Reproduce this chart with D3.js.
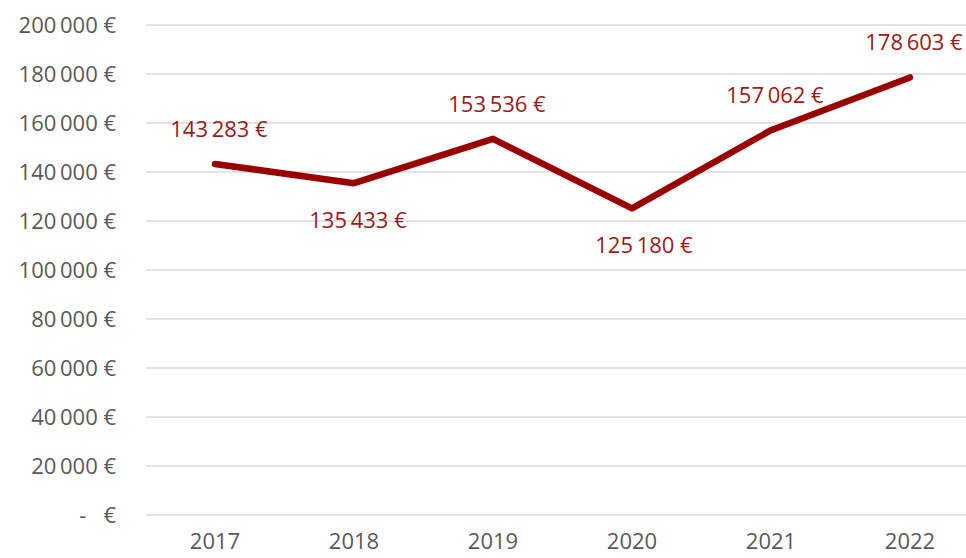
<!DOCTYPE html>
<html>
<head>
<meta charset="utf-8">
<script src="https://cdn.jsdelivr.net/npm/d3@7"></script>
<style>
  body { margin: 0; background: #fff; }
  svg { display: block; font-family: "Open Sans", sans-serif; }
  .tick-label { fill: #595959; font-size: 22px; }
  .data-label { fill: #9c1a1a; font-size: 22px; }
</style>
</head>
<body>
<div id="card"></div>
<script>
// chart data
const years = ["2017", "2018", "2019", "2020", "2021", "2022"];
const revenue = [143283, 135433, 153536, 125180, 157062, 178603];
const yTicks = [0, 20000, 40000, 60000, 80000, 100000, 120000, 140000, 160000, 180000, 200000];

const w = 966;
const h = 558;

// where each value label sits relative to its point
const labelSide = ["top", "bottom", "top", "bottom", "top", "top"];

const svg = d3.select("#card")
  .append("svg")
  .attr("width", w)
  .attr("height", h);

const x = d3.scaleBand()
  .domain(years)
  .range([145.5, 979.5]);

const y = d3.scaleLinear()
  .domain([0, 200000])
  .range([515, 25]);

// euro format with thin thousands separator, dash for zero
function euro(v) {
  if (v === 0) return "-\u00a0\u00a0\u00a0€";
  return d3.format(",")(v).replace(/,/g, "\u2009") + "\u00a0€";
}

// gridlines
svg.append("g")
  .selectAll("line")
  .data(yTicks)
  .enter()
  .append("line")
  .attr("x1", 146)
  .attr("x2", w)
  .attr("y1", d => y(d))
  .attr("y2", d => y(d))
  .attr("stroke", "#d9d9d9")
  .attr("stroke-width", 1.6);

// y axis labels
svg.append("g")
  .selectAll("text")
  .data(yTicks)
  .enter()
  .append("text")
  .classed("tick-label", true)
  .attr("x", 116)
  .attr("y", d => y(d))
  .attr("dy", "0.36em")
  .attr("text-anchor", "end")
  .style("white-space", "pre")
  .text(d => euro(d));

// x axis labels
svg.append("g")
  .selectAll("text")
  .data(years)
  .enter()
  .append("text")
  .classed("tick-label", true)
  .attr("x", d => x(d) + x.bandwidth() / 2)
  .attr("y", 541)
  .attr("dy", "0.36em")
  .attr("text-anchor", "middle")
  .text(d => d);

// line
const points = years.map((yr, i) => ({ year: yr, value: revenue[i], side: labelSide[i] }));

const line = d3.line()
  .x(d => x(d.year) + x.bandwidth() / 2)
  .y(d => y(d.value));

svg.append("path")
  .datum(points)
  .attr("d", line)
  .attr("fill", "none")
  .attr("stroke", "#990000")
  .attr("stroke-width", 6.5)
  .attr("stroke-linejoin", "round")
  .attr("stroke-linecap", "round");

// value labels
svg.append("g")
  .selectAll("text")
  .data(points)
  .enter()
  .append("text")
  .classed("data-label", true)
  .attr("x", (d, i) => x(d.year) + x.bandwidth() / 2 + (i === 3 ? 12 : 4))
  .attr("y", d => y(d.value) + (d.side === "top" ? -35 : 37))
  .attr("dy", "0.36em")
  .attr("text-anchor", "middle")
  .text(d => euro(d.value));
</script>
</body>
</html>
